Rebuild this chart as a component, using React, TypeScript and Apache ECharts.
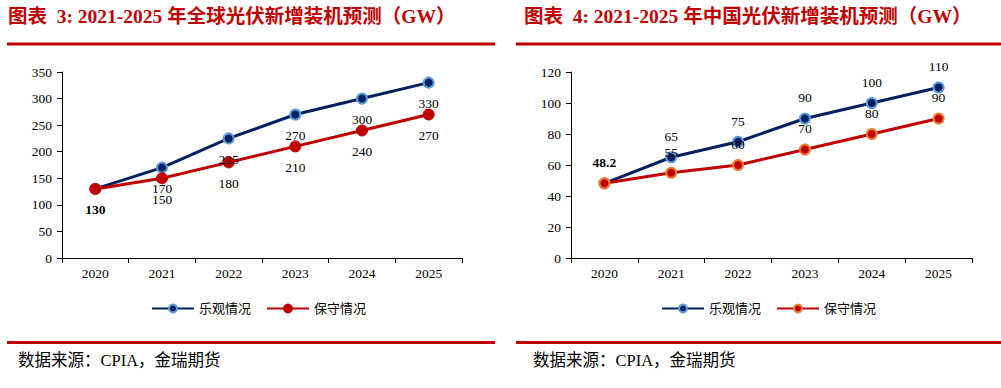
import React, { useEffect, useRef } from "react";
import * as echarts from "echarts";

const categories = ["2020", "2021", "2022", "2023", "2024", "2025"];
const globalOptimistic = [130, 170, 225, 270, 300, 330];
const globalConservative = [130, 150, 180, 210, 240, 270];
const chinaOptimistic = [48.2, 65, 75, 90, 100, 110];
const chinaConservative = [48.2, 55, 60, 70, 80, 90];
const seriesNames = ["乐观情况", "保守情况"];
const titleLeft = "图表  3: 2021-2025 年全球光伏新增装机预测（GW）";
const titleRight = "图表  4: 2021-2025 年中国光伏新增装机预测（GW）";
const sourceText = "数据来源：CPIA，金瑞期货";

const RED = "#C00000";
const NAVY = "#002060";
const FONT = "'Liberation Serif', 'Noto Sans CJK SC', serif";

function makeData(values: number[], hideFirst: boolean, boldFirst: boolean) {
  return values.map((v, i) => {
    if (i === 0 && hideFirst) return { value: v, label: { show: false } };
    if (i === 0 && boldFirst) return { value: v, label: { fontWeight: "bold" } };
    return v;
  });
}

export default function App() {
  const ref = useRef<HTMLDivElement>(null);
  useEffect(() => {
    if (!ref.current) return;
    const chart = echarts.init(ref.current, undefined, { renderer: "svg" });
    const axisCommon = {
      axisLine: { show: true, lineStyle: { color: "#000", width: 1 } },
      axisTick: { show: true, length: 5, lineStyle: { color: "#000" } },
      splitLine: { show: false },
      axisLabel: { color: "#000", fontSize: 13.5, fontFamily: FONT },
    };
    const xAxis = (gi: number) => ({
      type: "category",
      gridIndex: gi,
      data: categories,
      boundaryGap: true,
      ...axisCommon,
      axisLabel: { ...axisCommon.axisLabel, margin: 9 },
    });
    const labelStyle = (pos: string, dist: number) => ({
      show: true,
      position: pos,
      distance: dist,
      color: "#000",
      fontSize: 13.5,
      fontFamily: FONT,
    });
    const legendText = { fontSize: 13, color: "#000", fontFamily: FONT };
    const option: any = {
      animation: false,
      textStyle: { fontFamily: FONT },
      grid: [
        { left: 62, top: 72, width: 400, height: 186 },
        { left: 571, top: 72, width: 401, height: 186 },
      ],
      xAxis: [xAxis(0), xAxis(1)],
      yAxis: [
        {
          type: "value",
          gridIndex: 0,
          min: 0,
          max: 350,
          interval: 50,
          ...axisCommon,
          axisLabel: { ...axisCommon.axisLabel, margin: 10 },
        },
        {
          type: "value",
          gridIndex: 1,
          min: 0,
          max: 120,
          interval: 20,
          ...axisCommon,
          axisLabel: { ...axisCommon.axisLabel, margin: 10 },
        },
      ],
      legend: [
        {
          left: 146,
          top: 297,
          itemWidth: 42,
          itemHeight: 10,
          itemGap: 15,
          data: [seriesNames[0], seriesNames[1]],
          textStyle: legendText,
        },
        {
          left: 656,
          top: 297,
          itemWidth: 42,
          itemHeight: 10,
          itemGap: 15,
          data: [seriesNames[0] + " ", seriesNames[1] + " "],
          textStyle: legendText,
          formatter: (n: string) => n.trim(),
        },
      ],
      series: [
        {
          name: seriesNames[0],
          type: "line",
          xAxisIndex: 0,
          yAxisIndex: 0,
          data: makeData(globalOptimistic, true, false),
          symbol: "circle",
          symbolSize: 10,
          lineStyle: { color: NAVY, width: 3 },
          itemStyle: { color: NAVY, borderColor: "#5B9BD5", borderWidth: 2 },
          label: labelStyle("bottom", 8),
        },
        {
          name: seriesNames[1],
          type: "line",
          xAxisIndex: 0,
          yAxisIndex: 0,
          data: makeData(globalConservative, false, true),
          symbol: "circle",
          symbolSize: 11,
          lineStyle: { color: RED, width: 3 },
          itemStyle: { color: RED, borderColor: RED, borderWidth: 1 },
          label: labelStyle("bottom", 8),
        },
        {
          name: seriesNames[0] + " ",
          type: "line",
          xAxisIndex: 1,
          yAxisIndex: 1,
          data: makeData(chinaOptimistic, true, false),
          symbol: "circle",
          symbolSize: 10,
          lineStyle: { color: NAVY, width: 3 },
          itemStyle: { color: NAVY, borderColor: "#5B9BD5", borderWidth: 2 },
          label: labelStyle("top", 8),
        },
        {
          name: seriesNames[1] + " ",
          type: "line",
          xAxisIndex: 1,
          yAxisIndex: 1,
          data: makeData(chinaConservative, false, true),
          symbol: "circle",
          symbolSize: 10,
          lineStyle: { color: RED, width: 3 },
          itemStyle: { color: RED, borderColor: "#ED7D31", borderWidth: 2 },
          label: labelStyle("top", 8),
        },
      ],
      graphic: [
        {
          type: "text",
          left: 8,
          top: 7,
          style: { text: titleLeft, fill: RED, font: `bold 19.5px ${FONT}` },
        },
        {
          type: "text",
          left: 524,
          top: 7,
          style: { text: titleRight, fill: RED, font: `bold 19.5px ${FONT}` },
        },
        { type: "rect", shape: { x: 7, y: 42.5, width: 488, height: 3 }, style: { fill: RED } },
        { type: "rect", shape: { x: 516, y: 42.5, width: 485, height: 3 }, style: { fill: RED } },
        { type: "rect", shape: { x: 7, y: 341, width: 488, height: 3 }, style: { fill: RED } },
        { type: "rect", shape: { x: 516, y: 341, width: 485, height: 3 }, style: { fill: RED } },
        {
          type: "text",
          left: 18,
          top: 352,
          style: { text: sourceText, fill: "#000", font: `16.5px ${FONT}` },
        },
        {
          type: "text",
          left: 533,
          top: 352,
          style: { text: sourceText, fill: "#000", font: `16.5px ${FONT}` },
        },
      ],
    };
    chart.setOption(option);
    return () => chart.dispose();
  }, []);
  return (
    <div
      ref={ref}
      style={{ position: "fixed", left: 0, top: 0, width: 1001, height: 388, background: "#fff" }}
    />
  );
}
